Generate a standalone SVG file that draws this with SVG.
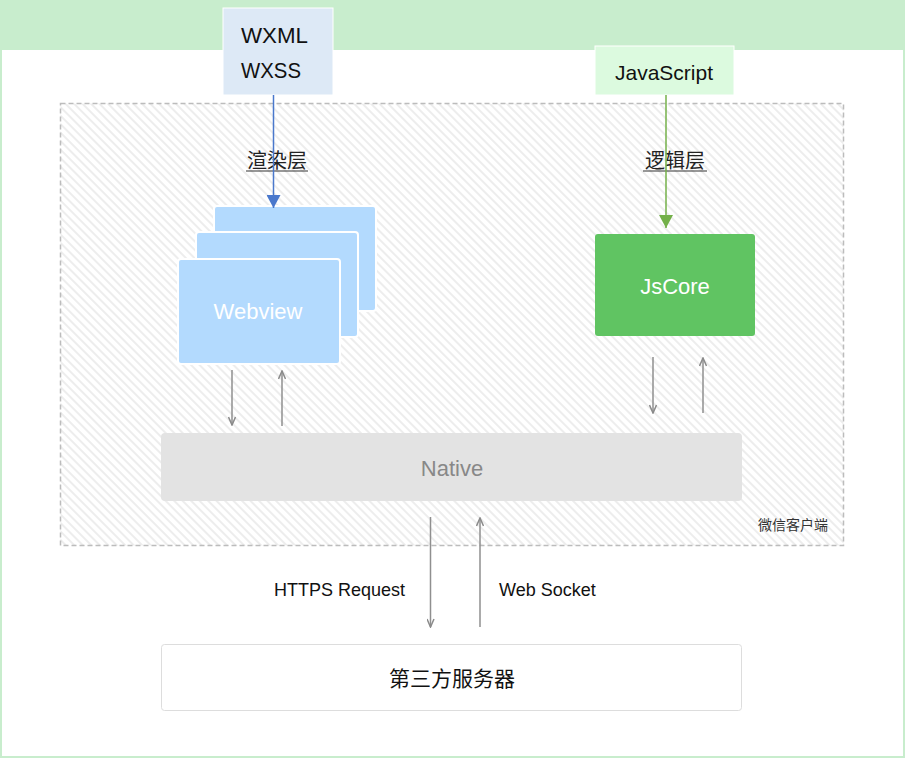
<svg xmlns="http://www.w3.org/2000/svg" width="905" height="758" viewBox="0 0 905 758">
<defs>
<pattern id="hatch" width="6" height="6" patternUnits="userSpaceOnUse" patternTransform="rotate(45)">
<rect width="6" height="6" fill="#ffffff"/>
<line x1="0" y1="3" x2="6" y2="3" stroke="#e6e6e6" stroke-width="1.4"/>
</pattern>
<marker id="ahGray" markerWidth="10" markerHeight="8" refX="9" refY="4" orient="auto" markerUnits="userSpaceOnUse">
<path d="M1,0.5 L9,4 L1,7.5" fill="none" stroke="#8a8a8a" stroke-width="1.5"/>
</marker>
<marker id="ahBlue" markerWidth="14" markerHeight="14" refX="13" refY="7" orient="auto" markerUnits="userSpaceOnUse">
<path d="M0,0 L13,7 L0,14 Z" fill="#4a78cc"/>
</marker>
<marker id="ahGreen" markerWidth="14" markerHeight="14" refX="13" refY="7" orient="auto" markerUnits="userSpaceOnUse">
<path d="M0,0 L13,7 L0,14 Z" fill="#74b04a"/>
</marker>
</defs>
<style>
.t{font-family:"Liberation Sans","Noto Sans CJK SC",sans-serif;}
.cjk{font-family:"Noto Sans CJK SC","Liberation Sans",sans-serif;}
.g{stroke:#8f8f8f;stroke-width:1.5;fill:none;marker-end:url(#ahGray);}
.wv{fill:#b3dafe;stroke:#ffffff;stroke-width:2;}
</style>
<rect x="0" y="0" width="905" height="758" fill="#ffffff"/>
<rect x="1" y="1" width="903" height="756" fill="none" stroke="#c8edcd" stroke-width="2"/>
<rect x="0" y="0" width="905" height="50" fill="#c8edcd"/>

<g id="client">
<rect x="60.5" y="103.5" width="783" height="442" fill="url(#hatch)" stroke="#bcbcbc" stroke-width="1.5" stroke-dasharray="5,3"/>
<text class="cjk" x="828" y="530" font-size="14" fill="#333" text-anchor="end">微信客户端</text>
</g>

<g id="wxml">
<rect x="223" y="8" width="110" height="87" fill="#dde9f6" stroke="#ffffff" stroke-width="1"/>
<text class="t" x="241" y="43" font-size="22" fill="#111" textLength="67" lengthAdjust="spacingAndGlyphs">WXML</text>
<text class="t" x="241" y="78" font-size="22" fill="#111" textLength="60" lengthAdjust="spacingAndGlyphs">WXSS</text>
</g>

<g id="javascript">
<rect x="595" y="46" width="139" height="49" fill="#dcfadf" stroke="#ffffff" stroke-width="1"/>
<text class="t" x="664" y="80" font-size="21" fill="#111" text-anchor="middle">JavaScript</text>
</g>

<g id="render-label">
<text class="cjk" x="277" y="168" font-size="20" fill="#222" text-anchor="middle">渲染层</text>
<line x1="246" y1="171" x2="308" y2="171" stroke="#333" stroke-width="1.2"/>
</g>
<g id="logic-label">
<text class="cjk" x="675" y="168" font-size="20" fill="#222" text-anchor="middle">逻辑层</text>
<line x1="643" y1="171" x2="707" y2="171" stroke="#333" stroke-width="1.2"/>
</g>

<g id="webview">
<rect class="wv" x="214" y="206" width="162" height="105" rx="3"/>
<rect class="wv" x="196" y="232" width="162" height="105" rx="3"/>
<rect class="wv" x="178" y="259" width="162" height="105" rx="3"/>
<text class="t" x="258" y="319" font-size="22" fill="#ffffff" text-anchor="middle">Webview</text>
</g>

<g id="jscore">
<rect x="595" y="234" width="160" height="102" rx="3" fill="#60c462"/>
<text class="t" x="675" y="294" font-size="22" fill="#ffffff" text-anchor="middle">JsCore</text>
</g>

<g id="native">
<rect x="161" y="433" width="581" height="68" rx="4" fill="#e3e3e3"/>
<text class="t" x="452" y="476" font-size="22" fill="#888888" text-anchor="middle">Native</text>
</g>

<g id="server">
<rect x="161.5" y="644.5" width="580" height="66" rx="3" fill="#ffffff" stroke="#dddddd" stroke-width="1"/>
<text class="cjk" x="452" y="686" font-size="21" fill="#111" text-anchor="middle">第三方服务器</text>
</g>

<g id="connectors">
<line x1="273.5" y1="95" x2="273.5" y2="208" stroke="#4a78cc" stroke-width="1.5" marker-end="url(#ahBlue)"/>
<line x1="666" y1="95" x2="666" y2="228" stroke="#74b04a" stroke-width="1.5" marker-end="url(#ahGreen)"/>
<line class="g" x1="232" y1="370" x2="232" y2="425"/>
<line class="g" x1="282" y1="426" x2="282" y2="371"/>
<line class="g" x1="653" y1="357" x2="653" y2="413"/>
<line class="g" x1="703" y1="413" x2="703" y2="358"/>
<line class="g" x1="430.5" y1="517" x2="430.5" y2="627"/>
<line class="g" x1="480" y1="627" x2="480" y2="518"/>
<text class="t" x="274" y="596" font-size="18" fill="#111">HTTPS Request</text>
<text class="t" x="499" y="596" font-size="18" fill="#111">Web Socket</text>
</g>
</svg>
